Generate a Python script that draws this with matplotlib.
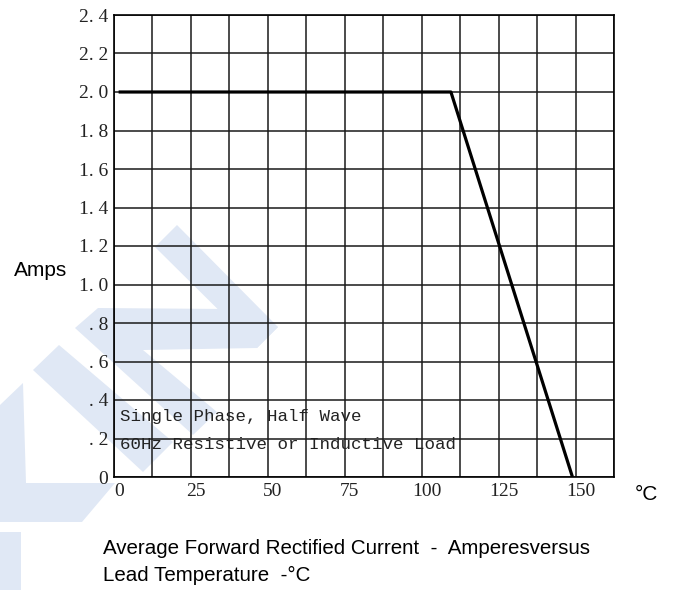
import matplotlib
matplotlib.use("Agg")
import matplotlib.pyplot as plt
from matplotlib.patches import Polygon
import matplotlib.transforms as mt
import numpy as np

# ---- data ----
temps = [1.5, 109.5, 149.0]
amps = [2.0, 2.0, 0.0]
x_ticks = [0, 25, 50, 75, 100, 125, 150]
x_tick_labels = ["0", "25", "50", "75", "100", "125", "150"]
y_ticks = [0, 0.2, 0.4, 0.6, 0.8, 1.0, 1.2, 1.4, 1.6, 1.8, 2.0, 2.2, 2.4]
y_tick_labels = ["0", ". 2", ". 4", ". 6", ". 8", "1. 0", "1. 2", "1. 4",
                 "1. 6", "1. 8", "2. 0", "2. 2", "2. 4"]
x_grid = np.arange(0, 162.6, 12.5)

W, H = 674, 590
fig = plt.figure(figsize=(W / 100, H / 100), dpi=100)

# ---- watermark (figure pixel coords, y from top) ----
wm_color = "#e0e8f5"
shapes = [
    [(155, 247), (177, 225), (278, 327), (257, 348)],
    [(75, 328), (98, 308), (227, 309), (278, 327), (257, 348), (143, 350),
     (217, 412), (193, 435)],
    [(33, 370), (59, 345), (173, 442), (143, 472)],
    [(0, 405), (23, 383), (26, 483), (115, 483), (82, 522), (0, 522)],
    [(0, 532), (21, 532), (21, 590), (0, 590)],
]
for s in shapes:
    pts = [(x / W, 1 - y / H) for x, y in s]
    fig.patches.append(Polygon(pts, closed=True, transform=fig.transFigure,
                               facecolor=wm_color, edgecolor="none", zorder=-5))

ax = fig.add_axes([114 / W, 113 / H, 500 / W, 462 / H])
ax.set_zorder(2)
ax.set_facecolor("none")
ax.set_xlim(0, 162.5)
ax.set_ylim(0, 2.4)

for xv in x_grid:
    ax.axvline(xv, color="#1a1a1a", lw=1.1, zorder=1)
for yv in y_ticks:
    ax.axhline(yv, color="#1a1a1a", lw=1.1, zorder=1)

ax.plot(temps, amps, color="black", lw=2.3, zorder=3, solid_capstyle="butt")

for sp in ax.spines.values():
    sp.set_color("black")
    sp.set_linewidth(1.2)

serif = ["Liberation Serif", "DejaVu Serif"]
ax.set_xticks(x_ticks)
ax.set_xticklabels(x_tick_labels, fontfamily=serif, fontsize=14, color="#222222")
ax.set_yticks(y_ticks)
ax.set_yticklabels(y_tick_labels, fontfamily=serif, fontsize=14, color="#222222")
ax.tick_params(length=0, pad=4)
for lab in ax.get_xticklabels():
    lab.set_transform(lab.get_transform() + mt.ScaledTranslation(5 / 100, 0, fig.dpi_scale_trans))

mono = ["Liberation Mono", "DejaVu Sans Mono"]
ax.text(2, 0.312, "Single Phase, Half Wave", fontfamily=mono, fontsize=12.6,
        va="center", ha="left", color="#222222", zorder=4)
ax.text(2, 0.171, "60Hz Resistive or Inductive Load", fontfamily=mono, fontsize=12.6,
        va="center", ha="left", color="#222222", zorder=4)

sans = ["Liberation Sans", "DejaVu Sans"]
fig.text(41 / W, 1 - 270 / H, "Amps", fontfamily=sans, fontsize=15,
         ha="center", va="center")
fig.text(646 / W, 1 - 495 / H, "°C", fontfamily=sans, fontsize=15,
         ha="center", va="center")
fig.text(103 / W, 1 - 549 / H, "Average Forward Rectified Current  -  Amperesversus",
         fontfamily=sans, fontsize=14.8, ha="left", va="center")
fig.text(103 / W, 1 - 575 / H, "Lead Temperature  -°C",
         fontfamily=sans, fontsize=14.8, ha="left", va="center")

fig.savefig("out.png", dpi=100)
